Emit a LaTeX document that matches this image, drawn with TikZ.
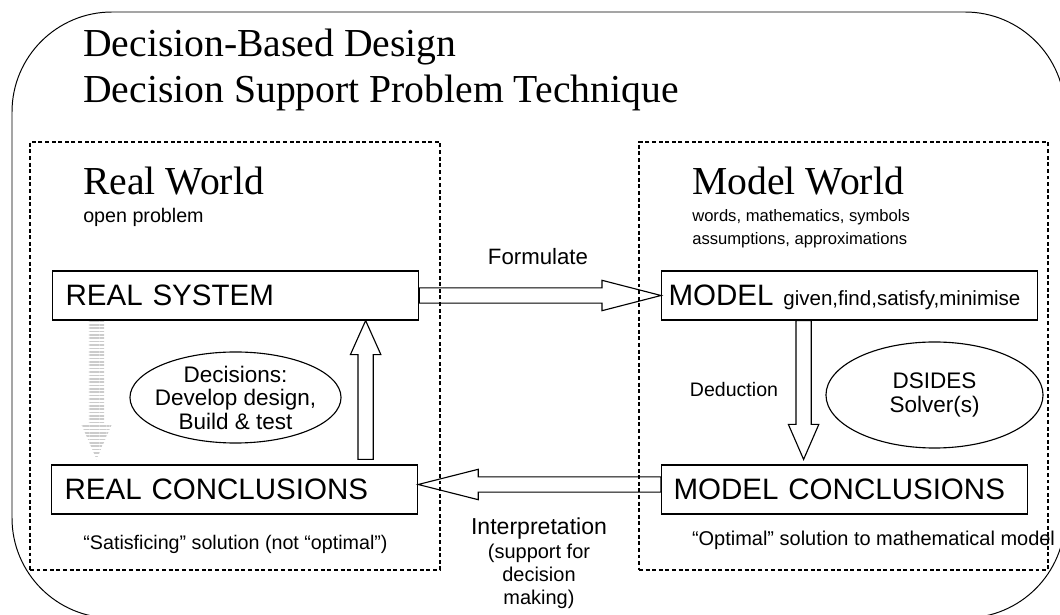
\documentclass[tikz,border=0pt]{standalone}
\usepackage{fontspec}
\setmainfont{Liberation Serif}
\setsansfont{Liberation Sans}
\usetikzlibrary{positioning, shapes.geometric, calc, patterns.meta}

\tikzstyle{worldBox}=[draw, dash pattern=on 2.8pt off 1.9pt, line width=1.1pt, inner sep=0pt]
\tikzstyle{sysBox}=[draw, line width=0.8pt, anchor=west, align=left, minimum height=1.225cm, inner ysep=0pt, text depth=0pt, font=\sffamily\fontsize{21}{21}\selectfont]
\tikzstyle{decisionNode}=[draw, ellipse, line width=0.8pt, inner xsep=-0.3cm, inner ysep=-0.15cm, align=center, font=\sffamily\fontsize{16}{16.7}\selectfont]
\tikzstyle{bigLabel}=[anchor=base west, inner sep=0pt, font=\rmfamily\fontsize{28.2}{32.7}\selectfont]
\tikzstyle{smallLabel}=[inner sep=0pt, font=\sffamily\fontsize{14}{16.7}\selectfont]

\tikzset{
  blockArrow/.style={draw, line width=0.8pt,
    to path={let \p1=(\tikztostart), \p2=(\tikztotarget),
      \p3=($(\p2)!#1!(\p1)$) in
      ($(\p1)!0.19cm!90:(\p2)$) -- ($(\p3)!0.19cm!90:(\p2)$)
      -- ($(\p3)!0.38cm!90:(\p2)$) -- (\p2)
      -- ($(\p3)!0.38cm!-90:(\p2)$) -- ($(\p3)!0.19cm!-90:(\p2)$)
      -- ($(\p1)!0.19cm!-90:(\p2)$) -- cycle}},
  fadedArrow/.style={blockArrow=#1, draw=none,
    pattern={Lines[angle=0, distance=2.4pt, line width=1.2pt]}, pattern color=gray!40}
}

\begin{document}
\begin{tikzpicture}[x=0.025cm, y=-0.025cm]

    \useasboundingbox (0,0) rectangle (1060,615);
    \clip (0,0) rectangle (1060,615);

    % outer frame
    \draw[line width=0.7pt, rounded corners=2.5cm] (12,12) rectangle (1065,618);

    % titles
    \node[bigLabel] (title1) at (83,57) {Decision-Based Design};
    \node[bigLabel] (title2) at (83,103) {Decision Support Problem Technique};

    % the two worlds
    \node[worldBox, minimum width=10.25cm, minimum height=10.7cm] (realWorld) at (235,356) {};
    \node[worldBox, minimum width=10.225cm, minimum height=10.7cm] (modelWorld) at (843.5,356) {};

    \node[bigLabel] (realTitle) at (83,195) {Real World};
    \node[smallLabel, anchor=base west] (realNote) at (83,223) {open problem};
    \node[bigLabel] (modelTitle) at (692,195) {Model World};
    % base of a two-line node sits on its last line
    \node[smallLabel, anchor=base west, align=left, font=\sffamily\fontsize{11.8}{16.4}\selectfont] (modelNote) at (692,245) {words, mathematics, symbols\\assumptions, approximations};

    % systems
    \node[sysBox, text width=8.5cm, inner xsep=0.325cm] (rs) at (52,295.5) {REAL SYSTEM};
    \node[sysBox, text width=8.5cm, inner xsep=0.325cm] (rc) at (51,489.5) {REAL CONCLUSIONS};
    \node[sysBox, text width=9.05cm, inner xsep=0.175cm] (mdl) at (661,295.5) {MODEL {\fontsize{14.6}{14.6}\selectfont given,find,satisfy,minimise}};
    \node[sysBox, text width=8.55cm, inner xsep=0.3cm] (mc) at (661,489.5) {MODEL CONCLUSIONS};

    % decisions and solvers
    \node[decisionNode, minimum width=5.275cm, minimum height=2.275cm] (decide) at (235.5,397.5) {Decisions:\\Develop design,\\Build \& test};
    \node[decisionNode, minimum width=5.425cm, minimum height=2.65cm] (solver) at (934.5,395) {DSIDES\\Solver(s)};

    % transitions
    \draw[blockArrow=1.475cm] (rs.east) to (mdl.west);
    \draw[blockArrow=1.5cm] ([yshift=0.125cm]mc.west) to ([yshift=0.125cm]rc.east);
    \draw[blockArrow=0.85cm] ([xshift=3.275cm, yshift=0.125cm]rc.north) to ([xshift=3.25cm]rs.south);
    \draw[blockArrow=0.875cm] ([xshift=-1.15cm]mdl.south) to ([xshift=-1.025cm, yshift=0.125cm]mc.north);
    \draw[fadedArrow=0.875cm] ([xshift=-3.475cm]rs.south) to ([xshift=-3.45cm, yshift=0.125cm]rc.north);

    % labels
    \node[smallLabel, anchor=base, font=\sffamily\fontsize{15.8}{16}\selectfont] (formLabel) at (538,265) {Formulate};
    \node[smallLabel, anchor=base, font=\sffamily\fontsize{13.9}{16}\selectfont] (dedLabel) at (734,397) {Deduction};
    \node[smallLabel, anchor=base, font=\sffamily\fontsize{16.4}{16}\selectfont] (interpLabel) at (539,535) {Interpretation};
    \node[smallLabel, anchor=base, align=center, font=\sffamily\fontsize{14.2}{16.7}\selectfont] (interpNote) at (539,605) {(support for\\decision\\making)};
    \node[smallLabel, anchor=base] (realSol) at (235.5,550) {“Satisficing” solution (not “optimal”)};
    \node[smallLabel, anchor=base, font=\sffamily\fontsize{14.2}{16.7}\selectfont] (modelSol) at (873.5,546) {“Optimal” solution to mathematical model};

\end{tikzpicture}
\end{document}
